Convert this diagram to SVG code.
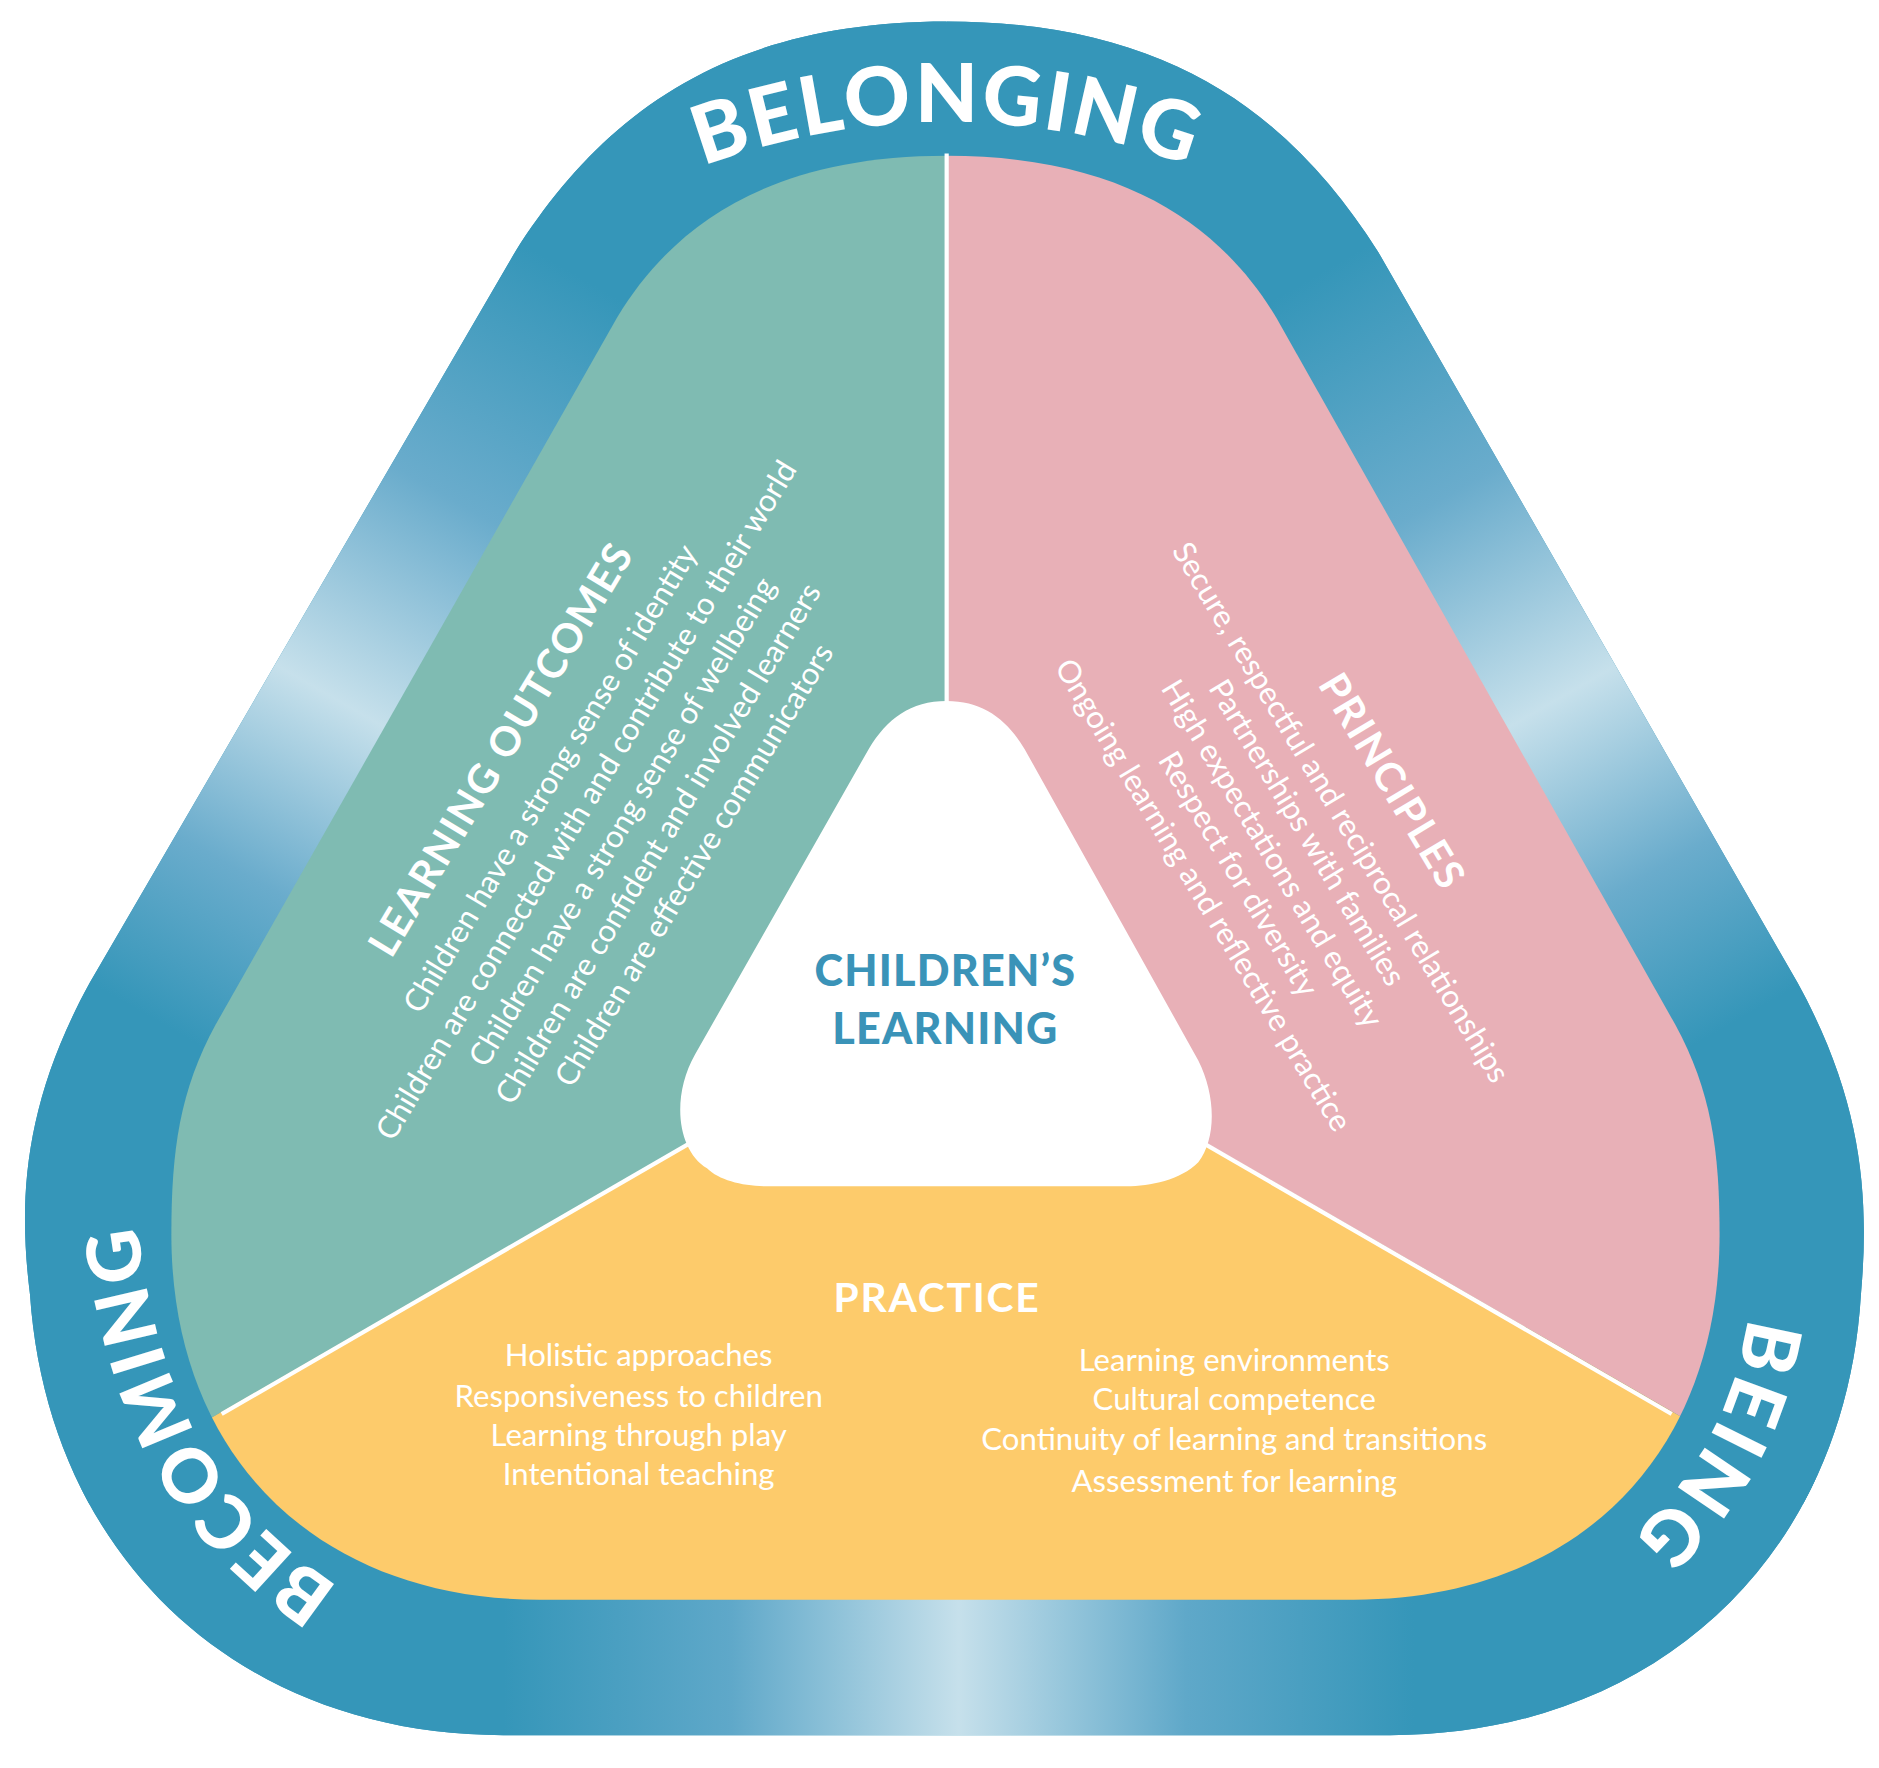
<svg xmlns="http://www.w3.org/2000/svg" width="1879" height="1768" viewBox="0 0 1879 1768">
<defs>
<style>
.ring{font-family:Lato,"Open Sans","DejaVu Sans",sans-serif;font-weight:900;font-size:64px;fill:#fff;letter-spacing:4px}
.ring1{font-family:Lato,"Open Sans","DejaVu Sans",sans-serif;font-weight:900;font-size:68px;fill:#fff;letter-spacing:2px}
.ring2{font-family:Lato,"Open Sans","DejaVu Sans",sans-serif;font-weight:900;font-size:62px;fill:#fff;letter-spacing:3px}
.hd{font-family:Lato,"Open Sans",sans-serif;font-weight:700;font-size:34px;fill:#fff;text-anchor:middle;letter-spacing:1.5px}
.tx{font-family:Lato,"Open Sans",sans-serif;font-size:26px;fill:#fff;text-anchor:middle}
.cl{font-family:Lato,"Open Sans",sans-serif;font-weight:900;font-size:36px;fill:#3a93b8;text-anchor:middle;letter-spacing:1px}
</style>
<path id="outer" d="M790,18 C600,18 500,100 430,210 L75,820 C20,920 15,1000 25,1080 C40,1300 200,1448 420,1448 L1160,1448 C1380,1448 1540,1300 1553,1080 C1560,1000 1555,920 1500,820 L1150,210 C1080,100 980,18 790,18 Z"/>
<path id="inner" d="M790,130 C640,130 560,190 515,265 L180,855 C150,910 143,960 143,1030 C143,1220 270,1335 450,1335 L1130,1335 C1310,1335 1435,1220 1435,1030 C1435,960 1428,910 1398,855 L1065,265 C1020,190 940,130 790,130 Z"/>
<linearGradient id="gL" gradientUnits="userSpaceOnUse" x1="430" y1="200" x2="75" y2="820"><stop offset="0" stop-color="#3596b9"/><stop offset="0.3" stop-color="#6aaccc"/><stop offset="0.57" stop-color="#c6e0eb"/><stop offset="0.8" stop-color="#6aaccc"/><stop offset="1" stop-color="#3596b9"/></linearGradient>
<linearGradient id="gR" gradientUnits="userSpaceOnUse" x1="1150" y1="200" x2="1505" y2="820"><stop offset="0" stop-color="#3596b9"/><stop offset="0.3" stop-color="#6aaccc"/><stop offset="0.57" stop-color="#c6e0eb"/><stop offset="0.8" stop-color="#6aaccc"/><stop offset="1" stop-color="#3596b9"/></linearGradient>
<linearGradient id="gB" gradientUnits="userSpaceOnUse" x1="420" y1="0" x2="1180" y2="0"><stop offset="0" stop-color="#3596b9"/><stop offset="0.25" stop-color="#5fa8c9"/><stop offset="0.5" stop-color="#c6e0eb"/><stop offset="0.75" stop-color="#5fa8c9"/><stop offset="1" stop-color="#3596b9"/></linearGradient>
<clipPath id="cL"><polygon points="790,829 790,0 -50,0 -50,1310 0,1300"/></clipPath>
<clipPath id="cR"><polygon points="790,829 790,0 1650,0 1650,1310 1580,1300"/></clipPath>
<clipPath id="cB"><polygon points="790,829 -50,1310 -50,1500 1650,1500 1650,1310"/></clipPath>
<clipPath id="cLi"><polygon points="790,829 790,0 0,0 0,1285"/></clipPath>
<clipPath id="cRi"><polygon points="790,829 790,0 1600,0 1600,1296"/></clipPath>
<clipPath id="cBi"><polygon points="790,829 0,1285 0,1500 1600,1500 1600,1296"/></clipPath>
<path id="pBel" d="M510,174 A580,580 0 0 1 1070,174"/>
<path id="pBeing" d="M1462,1060 C1458,1160 1420,1240 1330,1310"/>
<path id="pBec" d="M300,1335 C200,1275 130,1190 112,1000"/>
</defs>
<g transform="scale(1.1983)">
<g id="ring">
<use href="#outer" fill="#3596b9"/>
<use href="#outer" fill="url(#gL)" clip-path="url(#cL)"/>
<use href="#outer" fill="url(#gR)" clip-path="url(#cR)"/>
<use href="#outer" fill="url(#gB)" clip-path="url(#cB)"/>
</g>
<g id="outcomes">
<use href="#inner" fill="#7fbbb2" clip-path="url(#cLi)"/>
<g transform="translate(418,625) rotate(-59)">
<text class="hd" y="12">LEARNING OUTCOMES</text>
<text class="tx" y="57">Children have a strong sense of identity</text>
<text class="tx" y="92">Children are connected with and contribute to their world</text>
<text class="tx" y="127">Children have a strong sense of wellbeing</text>
<text class="tx" y="162">Children are confident and involved learners</text>
<text class="tx" y="197">Children are effective communicators</text>
</g>
</g>
<g id="principles">
<use href="#inner" fill="#e8b0b7" clip-path="url(#cRi)"/>
<g transform="translate(1162,652) rotate(59)">
<text class="hd" y="12">PRINCIPLES</text>
<text class="tx" y="59">Secure, respectful and reciprocal relationships</text>
<text class="tx" y="92">Partnerships with families</text>
<text class="tx" y="126">High expectations and equity</text>
<text class="tx" y="159">Respect for diversity</text>
<text class="tx" y="193">Ongoing learning and reflective practice</text>
</g>
</g>
<g id="practice">
<use href="#inner" fill="#fdcb6b" clip-path="url(#cBi)"/>
<text class="hd" x="782" y="1095">PRACTICE</text>
<text class="tx" x="533" y="1140">Holistic approaches</text>
<text class="tx" x="533" y="1174">Responsiveness to children</text>
<text class="tx" x="533" y="1207">Learning through play</text>
<text class="tx" x="533" y="1239">Intentional teaching</text>
<text class="tx" x="1030" y="1144">Learning environments</text>
<text class="tx" x="1030" y="1177">Cultural competence</text>
<text class="tx" x="1030" y="1210">Continuity of learning and transitions</text>
<text class="tx" x="1030" y="1245">Assessment for learning</text>
</g>
<g id="connectors" stroke="#fff" stroke-width="3.5" fill="none">
<line x1="790" y1="128" x2="790" y2="600"/>
<line x1="600" y1="940" x2="185" y2="1180"/>
<line x1="980" y1="940" x2="1395" y2="1180"/>
</g>
<g id="center">
<path d="M790,585 C760,585 740,600 725,625 L580,880 C560,915 565,960 590,975 C600,985 620,990 640,990 L940,990 C960,990 985,985 1000,970 C1015,950 1015,915 1000,885 L855,625 C840,600 820,585 790,585 Z" fill="#fff"/>
<text class="cl" x="789" y="823">CHILDREN’S</text>
<text class="cl" x="789" y="871">LEARNING</text>
</g>
<g id="ringlabels">
<text class="ring1"><textPath href="#pBel" startOffset="50%" text-anchor="middle">BELONGING</textPath></text>
<text class="ring"><textPath href="#pBeing" startOffset="50%" text-anchor="middle">BEING</textPath></text>
<text class="ring2"><textPath href="#pBec" startOffset="50%" text-anchor="middle">BECOMING</textPath></text>
</g>
</g>
</svg>
